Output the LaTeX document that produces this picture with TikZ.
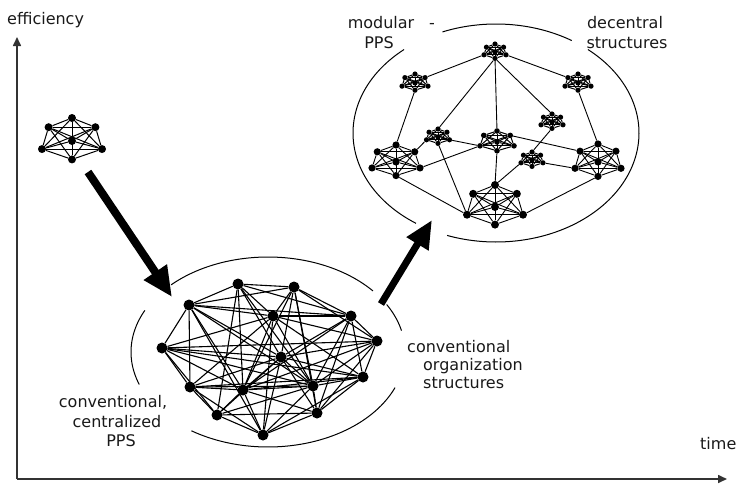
\documentclass[tikz,border=0pt]{standalone}
\usepackage{fontspec}
\setmainfont{DejaVu Sans}
\usetikzlibrary{arrows.meta}

\tikzset{
  hubdot/.style={circle, fill=black, draw=none, inner sep=0pt},
  meshdot/.style={circle, fill=black, draw=none, inner sep=0pt, minimum size=11pt},
  meshline/.style={line width=1.1pt},
  linkline/.style={line width=0.9pt},
  ring/.style={line width=1pt},
  axis/.style={line width=1.6pt, draw=black!80, -{Triangle[length=9pt, width=8pt]}},
  bigarrow/.style={line width=#1, -{Triangle[length=30pt, width=26pt]}},
  lbl/.style={font=\fontsize{16}{20}\selectfont, inner sep=0pt, text=black!90}
}

% A small fully meshed net: six hub points on a flat hexagon plus a centre.
% #1 name, #2/#3 centre, #4/#5 half width/height, #6 dot radius, #7 line width
\newcommand\hexnet[7]{%
  \begin{scope}[shift={(#2,#3)}, x=#4pt, y=#5pt]
    \foreach \nm/\px/\py in {t/0/1, ur/0.78/0.6, lr/1/-0.35, b/0/-0.8,
                             ll/-1/-0.35, ul/-0.78/0.6, c/0/0}
      \node[hubdot, minimum size={2*#6pt}] (#1-\nm) at (\px,\py) {};
    \foreach \a [count=\i] in {t,ur,lr,b,ll,ul,c}{
      \foreach \b [count=\j] in {t,ur,lr,b,ll,ul,c}{
        \ifnum\j>\i \draw[line width=#7pt] (#1-\a) -- (#1-\b); \fi
      }}
  \end{scope}}

\begin{document}
\begin{tikzpicture}[x=1pt, y=-1pt]
\useasboundingbox (0,0) rectangle (738,485);

% axes
\coordinate (origin) at (17,479);
\coordinate (ytop) at (17,37);
\coordinate (xend) at (727,479);
\draw[axis] (origin) -- (ytop);
\draw[axis] (origin) -- (xend);
\node[lbl, anchor=base west] (effl) at (7,24) {efficiency};
\node[lbl, anchor=base west] (timel) at (700,449) {time};

% starting net
\hexnet{S}{72}{141}{30}{23}{4}{1}

% conventional mesh
\foreach \n/\px/\py in {1/238/284, 2/294/287, 3/189/305, 4/273/316, 5/351/316,
                        6/377/341, 7/162/348, 8/281/357, 9/363/377, 10/190/387,
                        11/243/390, 12/313/386, 13/217/415, 14/317/413, 15/263/435}
  \node[meshdot] (m\n) at (\px,\py) {};
\foreach \a/\b in {1/2, 2/5, 5/6, 6/9, 9/14, 14/15, 15/13, 13/10, 10/7, 7/3, 3/1,
                   1/4, 1/8, 1/11, 1/13, 1/5, 1/12,
                   2/4, 2/8, 2/12, 2/14, 2/3, 2/11, 2/6,
                   3/4, 3/5, 3/8, 3/11, 3/12, 3/10, 3/15,
                   4/5, 4/7, 4/11, 4/10, 4/12, 4/9, 4/15, 4/6,
                   5/8, 5/12, 5/9, 5/11, 5/14,
                   6/7, 6/8, 6/12, 6/14, 6/11,
                   7/8, 7/11, 7/12, 7/13, 7/9,
                   8/9, 8/10, 8/13, 8/14, 8/15, 8/11, 8/12,
                   9/11, 9/12, 9/15, 9/10,
                   10/11, 10/12, 10/15,
                   11/12, 11/13, 11/14, 11/15,
                   12/13, 12/14, 12/15, 13/14}
  \draw[meshline] (m\a) -- (m\b);

% ring round the conventional mesh
\draw[ring] plot[domain=40:135, samples=50] ({268+137*cos(\x)}, {352-95*sin(\x)});
\draw[ring] plot[domain=154:200, samples=30] ({268+137*cos(\x)}, {352-95*sin(\x)});
\draw[ring] plot[domain=236:338, samples=50] ({268+137*cos(\x)}, {352-95*sin(\x)});
\draw[ring] plot[domain=13:30, samples=15] ({268+137*cos(\x)}, {352-95*sin(\x)});

% modular, decentral structure
\hexnet{A}{495}{52}{11}{8}{2.6}{1}
\hexnet{B}{415}{83}{13}{9}{2.6}{1}
\hexnet{C}{578}{83}{13}{9}{2.6}{1}
\hexnet{D}{438}{137}{11.5}{8}{2.6}{1}
\hexnet{E}{497}{142}{17}{11}{2.8}{1}
\hexnet{F}{552}{122}{11}{8}{2.6}{1}
\hexnet{G}{532}{160}{11}{8}{2.6}{1}
\hexnet{H}{396}{162}{24}{17}{3.6}{0.9}
\hexnet{I}{598}{162}{23}{18}{3.6}{0.9}
\hexnet{J}{495}{207}{28}{22}{4}{0.9}

\foreach \a/\b in {A-ll/B-ur, A-lr/C-ul, A-b/E-t, A-b/D-t, A-b/F-t,
                   B-b/H-t, C-b/I-t,
                   D-ll/H-ur, D-lr/E-ll, D-b/J-ll,
                   H-lr/E-ll, H-b/J-ll,
                   E-b/J-t, E-ur/I-ul,
                   F-b/G-t, G-ll/J-t, G-lr/I-ll,
                   I-b/J-lr}
  \draw[linkline] (\a) -- (\b);

% ring round the modular structure
\draw[ring] plot[domain=58:112, samples=40] ({496+143*cos(\x)}, {133-109*sin(\x)});
\draw[ring] plot[domain=130:236, samples=60] ({496+143*cos(\x)}, {133-109*sin(\x)});
\draw[ring] plot[domain=250:410, samples=90] ({496+143*cos(\x)}, {133-109*sin(\x)});

% development arrows
\coordinate (a1s) at (88,172);
\coordinate (a1e) at (172,297);
\coordinate (a2s) at (381,304);
\coordinate (a2e) at (432,220);
\draw[bigarrow=8pt] (a1s) -- (a1e);
\draw[line width=7pt, -{Triangle[length=28pt, width=24pt]}] (a2s) -- (a2e);

% labels
\node[lbl, anchor=base] (cc1) at (113,407) {conventional,};
\node[lbl, anchor=base] (cc2) at (117,427) {centralized};
\node[lbl, anchor=base] (cc3) at (121,446) {PPS};

\node[lbl, anchor=base west] (co1) at (407,352) {conventional};
\node[lbl, anchor=base west] (co2) at (423,370) {organization};
\node[lbl, anchor=base west] (co3) at (423,388) {structures};

\node[lbl, anchor=base] (mo1) at (381,28) {modular};
\node[lbl, anchor=base] (mo2) at (379,48) {PPS};
\node[lbl, anchor=base] (dash) at (432,28) {-};

\node[lbl, anchor=base] (de1) at (625,28) {decentral};
\node[lbl, anchor=base] (de2) at (627,48) {structures};
\end{tikzpicture}
\end{document}
